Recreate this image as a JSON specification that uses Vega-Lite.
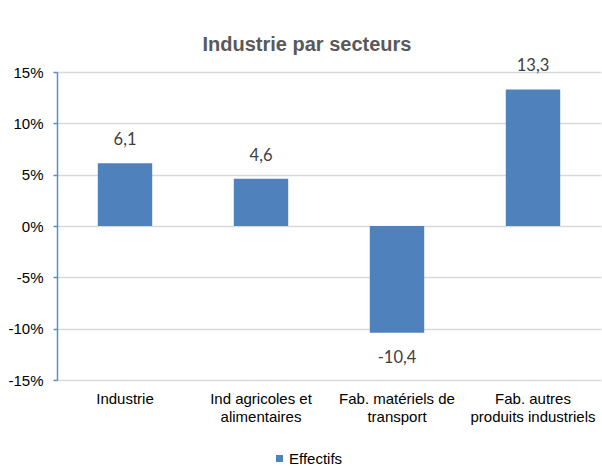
{
  "$schema": "https://vega.github.io/schema/vega-lite/v6.json",
  "autosize": "none",
  "width": 544,
  "height": 308,
  "padding": {"left": 57, "top": 72, "right": 1, "bottom": 89},
  "background": "white",
  "config": {
    "locale": {"number": {"decimal": ",", "thousands": " ", "grouping": [3], "currency": ["", " €"], "minus": "-"}},
    "view": {"stroke": null},
    "font": "Liberation Sans"
  },
  "title": {
    "text": "Industrie par secteurs",
    "font": "Liberation Sans",
    "fontSize": 20,
    "fontWeight": "bold",
    "color": "#595959",
    "anchor": "middle",
    "baseline": "alphabetic",
    "offset": -13,
    "dx": -22
  },
  "data": {
    "values": [
      {"secteur": "Industrie", "variation": 6.1, "serie": "Effectifs"},
      {"secteur": "Ind agricoles et alimentaires", "variation": 4.6, "serie": "Effectifs"},
      {"secteur": "Fab. matériels de transport", "variation": -10.4, "serie": "Effectifs"},
      {"secteur": "Fab. autres produits industriels", "variation": 13.3, "serie": "Effectifs"}
    ]
  },
  "encoding": {
    "x": {
      "field": "secteur",
      "type": "nominal",
      "sort": null,
      "scale": {"paddingInner": 0.6, "paddingOuter": 0.3},
      "axis": {
        "title": null,
        "orient": "bottom",
        "domain": false,
        "ticks": false,
        "labelAngle": 0,
        "labelFont": "Liberation Sans",
        "labelFontSize": 15,
        "labelColor": "#000000",
        "labelBaseline": "alphabetic",
        "labelPadding": 23,
        "labelLineHeight": 18,
        "labelLimit": 0,
        "labelExpr": "datum.value == 'Ind agricoles et alimentaires' ? ['Ind agricoles et', 'alimentaires'] : datum.value == 'Fab. matériels de transport' ? ['Fab. matériels de', 'transport'] : datum.value == 'Fab. autres produits industriels' ? ['Fab. autres', 'produits industriels'] : datum.value"
      }
    }
  },
  "layer": [
    {
      "mark": {"type": "bar"},
      "encoding": {
        "y": {
          "field": "variation",
          "type": "quantitative",
          "scale": {"domain": [-15, 15], "nice": false},
          "axis": {
            "title": null,
            "values": [-15, -10, -5, 0, 5, 10, 15],
            "labelExpr": "datum.label + '%'",
            "format": "d",
            "domainColor": "#5b8ec4",
            "domainWidth": 1.5,
            "tickColor": "#5b8ec4",
            "tickSize": 4,
            "tickWidth": 1.5,
            "labelPadding": 10,
            "labelFont": "Liberation Sans",
            "labelFontSize": 15,
            "labelColor": "#000000",
            "gridColor": "#d9d9d9",
            "gridWidth": 1.5
          }
        },
        "color": {
          "field": "serie",
          "type": "nominal",
          "scale": {"range": ["#4f81bd"]},
          "legend": {
            "title": null,
            "orient": "none",
            "legendX": 215,
            "legendY": 379,
            "padding": 0,
            "symbolType": "square",
            "symbolSize": 49,
            "symbolStrokeWidth": 0,
            "labelFont": "Liberation Sans",
            "labelFontSize": 15,
            "labelColor": "#000000",
            "labelOffset": 2
          }
        }
      }
    },
    {
      "transform": [{"filter": "datum.variation >= 0"}],
      "mark": {"type": "text", "font": "Lato", "fontSize": 16.5, "color": "#404040", "baseline": "alphabetic", "dy": -18},
      "encoding": {
        "y": {"field": "variation", "type": "quantitative"},
        "text": {"field": "variation", "type": "quantitative", "format": ".1f"}
      }
    },
    {
      "transform": [{"filter": "datum.variation < 0"}],
      "mark": {"type": "text", "font": "Lato", "fontSize": 16.5, "color": "#404040", "baseline": "alphabetic", "dy": 30},
      "encoding": {
        "y": {"field": "variation", "type": "quantitative"},
        "text": {"field": "variation", "type": "quantitative", "format": ".1f"}
      }
    }
  ]
}
